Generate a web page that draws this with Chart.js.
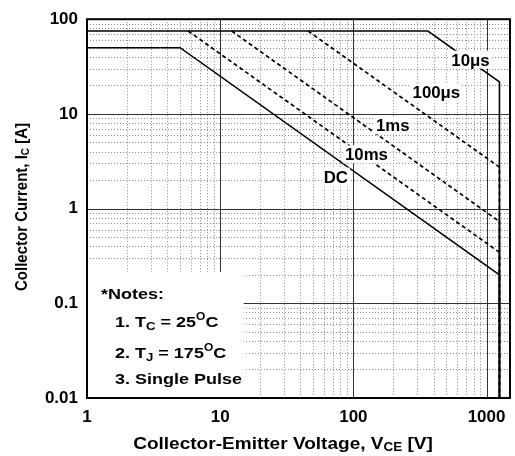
<!DOCTYPE html>
<html><head><meta charset="utf-8">
<script src="https://cdn.jsdelivr.net/npm/chart.js@4"></script>
<style>html,body{margin:0;padding:0;background:#fff}#wrap{width:515px;height:456px}</style>
</head><body><div id="wrap"><canvas id="c" width="515" height="456"></canvas></div>
<script>
// ---- data ----
const xTicks = [1, 10, 100, 1000];
const yTicks = [0.01, 0.1, 1, 10, 100];
const dcV = [1, 5, 1250, 1250];
const dcI = [50, 50, 0.2, 0.01];
const us10V = [1, 363, 1250, 1250];
const us10I = [75, 75, 21.8, 0.01];
const us100V = [45.7, 1250, 1250];
const us100I = [75, 2.74, 0.01];
const ms1V = [12.2, 1250, 1250];
const ms1I = [75, 0.73, 0.01];
const ms10V = [5.75, 1250, 1250];
const ms10I = [75, 0.345, 0.01];
const curveNames = ['10μs', '100μs', '1ms', '10ms', 'DC'];
const labelV = [757, 420, 197.6, 125.4, 73.8];
const labelI = [37.4, 16.9, 7.59, 3.74, 2.18];

const FONT = 'Liberation Sans, Arial, sans-serif';

function mk(label, V, I, dash) {
  return {
    label, data: V.map((v, i) => ({x: v, y: I[i]})),
    showLine: true, borderColor: '#000', borderWidth: dash.length ? 1.7 : 1.6,
    borderDash: dash, pointRadius: 0, fill: false, tension: 0
  };
}

function richWidth(ctx, segs) {
  let w = 0;
  for (const s of segs) { ctx.font = 'bold ' + s.s + 'px ' + FONT; w += ctx.measureText(s.t).width; }
  return w;
}
function drawRich(ctx, segs, x, y, align, sx) {
  ctx.save();
  ctx.translate(x, y);
  ctx.scale(sx, 1);
  const w = richWidth(ctx, segs);
  let cx = align === 'center' ? -w / 2 : (align === 'right' ? -w : 0);
  ctx.textBaseline = 'alphabetic';
  ctx.textAlign = 'left';
  ctx.fillStyle = '#000';
  for (const s of segs) {
    ctx.font = 'bold ' + s.s + 'px ' + FONT;
    ctx.fillText(s.t, cx, s.dy || 0);
    cx += ctx.measureText(s.t).width;
  }
  ctx.restore();
  return w * sx;
}

const decor = {
  id: 'decor',
  beforeDatasetsDraw(chart) {
    const {ctx, chartArea: a, scales: {x, y}} = chart;
    ctx.save();
    ctx.beginPath(); ctx.rect(a.left, a.top, a.right - a.left, a.bottom - a.top); ctx.clip();
    // minor grid
    ctx.setLineDash([1, 2]);
    ctx.strokeStyle = '#8a8a8a';
    ctx.lineWidth = 1;
    ctx.beginPath();
    for (let d = 1; d <= 1000; d *= 10) {
      for (let m = 2; m <= 9; m++) {
        const v = d * m;
        if (v > 1500) continue;
        const px = Math.round(x.getPixelForValue(v)) + 0.5;
        ctx.moveTo(px, a.top); ctx.lineTo(px, a.bottom);
      }
    }
    for (let d = 0.01; d < 100; d *= 10) {
      for (let m = 2; m <= 9; m++) {
        const py = Math.round(y.getPixelForValue(d * m)) + 0.5;
        ctx.moveTo(a.left, py); ctx.lineTo(a.right, py);
      }
    }
    ctx.stroke();
    // major grid
    ctx.setLineDash([]);
    ctx.strokeStyle = '#333';
    ctx.lineWidth = 1;
    ctx.beginPath();
    for (const v of xTicks) {
      const px = Math.round(x.getPixelForValue(v)) + 0.5;
      ctx.moveTo(px, a.top); ctx.lineTo(px, a.bottom);
    }
    for (const v of yTicks) {
      const py = Math.round(y.getPixelForValue(v)) + 0.5;
      ctx.moveTo(a.left, py); ctx.lineTo(a.right, py);
    }
    ctx.stroke();
    // notes box (white)
    const bx1 = x.getPixelForValue(15), by0 = y.getPixelForValue(0.215);
    ctx.fillStyle = '#fff';
    ctx.fillRect(a.left, by0, bx1 - a.left, a.bottom - by0);
    ctx.restore();
  },
  afterDatasetsDraw(chart) {
    const {ctx, chartArea: a, scales: {x, y}} = chart;
    // curve labels with white background
    curveNames.forEach((t, i) => {
      const cx = x.getPixelForValue(labelV[i]);
      const cy = y.getPixelForValue(labelI[i]);
      ctx.font = 'bold 16px ' + FONT;
      const w = ctx.measureText(t).width * 1.05;
      ctx.fillStyle = '#fff';
      ctx.fillRect(cx - w / 2 - 2, cy - 9, w + 4, 18);
      drawRich(ctx, [{t, s: 16}], cx, cy + 6, 'center', 1.05);
    });
    // notes
    const L = a.left, B = a.bottom;
    drawRich(ctx, [{t: '*Notes:', s: 15}], L + 14, B - 99, 'left', 1.2);
    drawRich(ctx, [{t: '1. T', s: 15}, {t: 'C', s: 11, dy: 3}, {t: ' = 25', s: 15}, {t: 'O', s: 10, dy: -7}, {t: 'C', s: 15}], L + 28, B - 71, 'left', 1.2);
    drawRich(ctx, [{t: '2. T', s: 15}, {t: 'J', s: 11, dy: 3}, {t: ' = 175', s: 15}, {t: 'O', s: 10, dy: -7}, {t: 'C', s: 15}], L + 28, B - 40, 'left', 1.2);
    drawRich(ctx, [{t: '3. Single Pulse', s: 15}], L + 28, B - 14, 'left', 1.2);
    // border
    ctx.save();
    ctx.strokeStyle = '#000';
    ctx.lineWidth = 2;
    ctx.strokeRect(a.left, a.top, a.right - a.left, a.bottom - a.top);
    ctx.restore();
    // axis titles
    drawRich(ctx, [{t: 'Collector-Emitter Voltage, V', s: 17}, {t: 'CE', s: 12, dy: 2}, {t: ' [V]', s: 17}], 283, 449, 'center', 1.12);
    ctx.save();
    ctx.translate(27, 207);
    ctx.rotate(-Math.PI / 2);
    ctx.scale(1, 1.15);
    drawRich(ctx, [{t: 'Collector Current, I', s: 15}, {t: 'C', s: 10, dy: 2}, {t: ' [A]', s: 15}], 0, 0, 'center', 1);
    ctx.restore();
  }
};

const tickFont = {family: FONT, size: 17, weight: 'bold'};
new Chart(document.getElementById('c'), {
  type: 'scatter',
  data: {datasets: [
    mk('DC', dcV, dcI, []),
    mk('10μs', us10V, us10I, []),
    mk('100μs', us100V, us100I, [4, 3]),
    mk('1ms', ms1V, ms1I, [4, 3]),
    mk('10ms', ms10V, ms10I, [4, 3])
  ]},
  options: {
    responsive: false, animation: false,
    layout: {padding: {top: 15, right: 5, left: 0, bottom: 0}},
    plugins: {legend: {display: false}, tooltip: {enabled: false}, title: {display: false}},
    scales: {
      x: {
        type: 'logarithmic', min: 1, max: 1500,
        afterBuildTicks: s => { s.ticks = xTicks.map(v => ({value: v})); },
        afterFit: s => { s.height = 58; },
        grid: {display: false, drawTicks: false}, border: {display: false},
        ticks: {font: tickFont, color: '#000', padding: 9, maxRotation: 0, autoSkip: false, callback: v => String(v)}
      },
      y: {
        type: 'logarithmic', min: 0.01, max: 100,
        afterBuildTicks: s => { s.ticks = yTicks.map(v => ({value: v})); },
        afterFit: s => { s.width = 87; },
        grid: {display: false, drawTicks: false}, border: {display: false},
        ticks: {font: tickFont, color: '#000', padding: 9, autoSkip: false, callback: v => String(v)}
      }
    }
  },
  plugins: [decor]
});
</script>
</body></html>
